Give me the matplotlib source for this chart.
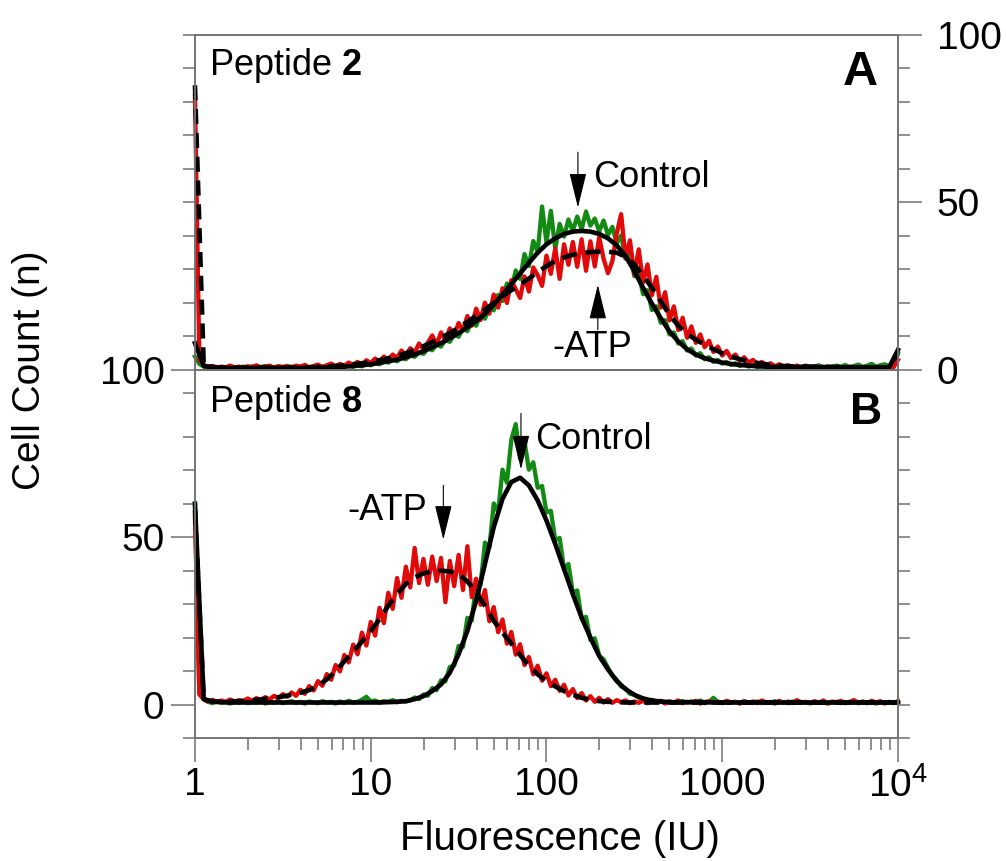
import matplotlib
matplotlib.use("Agg")
import matplotlib.pyplot as plt
import numpy as np
from matplotlib.ticker import NullFormatter, LogLocator

plt.rcParams['font.family'] = ['Liberation Sans', 'DejaVu Sans']
plt.rcParams['mathtext.fontset'] = 'custom'
plt.rcParams['mathtext.rm'] = 'Liberation Sans'
plt.rcParams['mathtext.bf'] = 'Liberation Sans:bold'

# fluorescence channels (log spaced): raw histograms every 0.025 decade, fits every 0.05 decade
raw_x = 10 ** np.linspace(0, 4, 161)
fit_x = 10 ** np.linspace(0, 4, 81)

# ---- Peptide 2 (panel A) ----
p2_control = [
    4.0, 1.8, 1.0, 0.6, 1.1, 0.7, 0.9, 0.5, 1.2, 0.8,
    0.6, 1.0, 0.7, 1.1, 0.5, 0.9, 1.2, 0.6, 0.8, 1.1,
    0.6, 0.9, 1.0, 0.5, 0.8, 1.1, 0.7, 0.9, 0.6, 1.0,
    0.8, 1.2, 0.7, 1.1, 0.9, 1.3, 0.9, 1.5, 1.1, 1.8,
    1.4, 2.1, 1.7, 2.6, 2.2, 3.1, 2.6, 3.6, 3.2, 4.5,
    3.9, 5.3, 4.8, 6.4, 5.9, 7.6, 7.0, 9.0, 8.4, 10.6,
    9.9, 12.4, 11.6, 14.3, 13.2, 16.5, 15.3, 18.9, 17.8, 22.4,
    20.6, 25.8, 23.9, 29.7, 27.2, 34.6, 31.0, 38.5, 35.2, 48.8,
    38.1, 47.5, 36.2, 43.6, 39.8, 44.9, 41.5, 45.8, 42.0, 47.3,
    43.1, 45.2, 41.4, 44.6, 40.3, 42.7, 37.9, 40.1, 33.2, 35.3,
    28.0, 28.9, 22.6, 23.8, 17.9, 19.0, 14.1, 14.9, 10.6, 11.2,
    7.9, 8.6, 5.8, 6.4, 4.3, 5.0, 3.2, 3.8, 2.4, 3.0,
    1.9, 2.4, 1.5, 2.0, 1.2, 1.7, 1.0, 1.5, 0.9, 1.3,
    0.8, 1.2, 0.7, 1.4, 0.8, 1.1, 0.6, 1.2, 0.9, 1.3,
    0.7, 1.0, 1.4, 0.8, 1.1, 0.7, 1.3, 0.9, 1.5, 0.8,
    1.2, 1.6, 0.9, 1.3, 1.8, 1.0, 1.4, 1.7, 1.1, 1.5,
    5.0]
p2_no_atp = [
    82.0, 3.0, 1.4, 1.0, 1.2, 0.6, 1.0, 0.8, 1.3, 0.7,
    1.0, 0.6, 1.1, 0.8, 1.4, 0.7, 1.0, 1.3, 0.6, 1.1,
    0.9, 1.2, 0.7, 1.3, 1.0, 1.5, 0.8, 1.2, 1.6, 0.9,
    1.4, 1.9, 1.1, 1.8, 1.3, 2.2, 1.5, 2.4, 1.6, 2.9,
    2.1, 3.4, 2.4, 4.0, 3.0, 4.6, 3.6, 5.8, 4.3, 6.5,
    5.2, 7.9, 6.1, 8.2, 10.3, 7.6, 11.2, 8.8, 12.4, 10.3,
    14.0, 11.8, 16.1, 13.2, 18.3, 14.9, 20.1, 16.8, 22.5, 18.6,
    24.4, 20.0, 26.8, 24.1, 21.5, 27.9, 23.4, 30.6, 28.3, 25.1,
    34.1, 28.7, 36.3, 27.2, 37.5, 31.4, 38.2, 30.8, 39.0, 29.6,
    38.4, 30.9, 39.6, 33.2, 28.9, 32.5, 40.8, 46.5, 33.4, 38.7,
    28.6, 36.0, 26.1, 31.5, 22.3, 27.8, 18.6, 23.2, 14.8, 19.0,
    11.9, 15.6, 9.6, 13.0, 8.1, 10.6, 6.8, 8.7, 5.4, 7.0,
    4.3, 5.7, 3.5, 4.6, 2.7, 3.8, 2.2, 3.0, 1.8, 2.4,
    1.4, 2.0, 1.1, 1.7, 0.9, 1.4, 0.8, 1.3, 0.7, 1.2,
    0.6, 1.1, 0.7, 1.0, 0.5, 1.1, 0.6, 0.9, 0.5, 1.0,
    0.6, 0.8, 0.4, 0.9, 0.5, 0.8, 0.4, 0.7, 0.5, 0.8,
    3.0]
p2_control_fit = [
    8.0, 1.2, 0.8, 0.7, 0.6, 0.6, 0.6, 0.6, 0.6, 0.6,
    0.6, 0.6, 0.6, 0.7, 0.7, 0.8, 0.9, 1.0, 1.2, 1.4,
    1.7, 2.1, 2.6, 3.1, 3.8, 4.6, 5.6, 6.8, 8.0, 9.5,
    11.0, 12.8, 14.6, 16.8, 19.5, 22.5, 25.6, 28.8, 32.0, 35.0,
    37.5, 39.3, 40.6, 41.3, 41.5, 41.3, 40.6, 39.3, 37.2, 34.0,
    29.5, 24.5, 19.8, 15.5, 11.5, 8.5, 6.2, 4.6, 3.5, 2.8,
    2.2, 1.8, 1.5, 1.3, 1.1, 1.0, 0.9, 0.9, 0.9, 0.9,
    0.9, 0.8, 0.8, 0.8, 0.8, 0.8, 0.8, 0.8, 0.8, 0.8,
    6.0]
p2_no_atp_fit = [
    85.0, 1.5, 0.9, 0.7, 0.7, 0.7, 0.7, 0.7, 0.7, 0.7,
    0.7, 0.7, 0.7, 0.8, 0.9, 1.0, 1.2, 1.4, 1.7, 2.0,
    2.4, 2.9, 3.5, 4.2, 5.0, 6.0, 7.1, 8.3, 9.6, 11.0,
    12.6, 14.3, 16.2, 18.0, 20.0, 22.0, 23.8, 25.5, 27.3, 29.2,
    31.0, 32.5, 33.6, 34.4, 34.9, 35.2, 35.3, 35.3, 35.0, 33.8,
    31.5, 28.2, 24.5, 20.5, 16.5, 13.2, 10.8, 9.0, 7.6, 6.2,
    5.0, 4.0, 3.2, 2.6, 2.1, 1.7, 1.4, 1.2, 1.1, 1.0,
    1.0, 0.9, 0.9, 0.9, 0.9, 0.8, 0.8, 0.8, 0.8, 0.8,
    5.0]

# ---- Peptide 8 (panel B) ----
p8_control = [
    60.0, 3.5, 1.5, 0.8, 0.4, 0.9, 0.5, 0.7, 0.3, 0.8,
    0.5, 0.9, 0.4, 0.7, 0.6, 1.0, 0.3, 0.8, 0.5, 0.9,
    0.4, 0.7, 1.0, 0.5, 0.8, 0.3, 0.9, 0.6, 0.4, 1.0,
    0.6, 0.8, 0.3, 0.9, 0.5, 1.1, 0.6, 0.8, 1.4, 2.3,
    0.9, 1.2, 0.6, 1.0, 0.8, 1.3, 0.7, 1.1, 0.9, 1.2,
    2.1, 1.6, 3.0, 2.6, 4.9, 4.3, 7.2, 6.9, 11.2, 11.6,
    17.5, 17.2, 25.9, 25.1, 36.3, 35.8, 48.4, 46.9, 60.1, 57.6,
    70.2, 66.3, 79.1, 83.8, 73.5, 78.6, 70.2, 72.4, 64.8, 65.3,
    57.4, 57.9, 49.1, 49.8, 40.6, 42.0, 33.4, 34.1, 25.7, 26.2,
    19.3, 19.8, 14.6, 13.5, 11.0, 8.6, 7.4, 5.4, 4.8, 3.2,
    3.0, 2.0, 1.9, 1.2, 1.4, 0.8, 1.1, 0.6, 0.9, 0.5,
    0.8, 1.0, 0.5, 0.9, 0.6, 1.2, 0.4, 0.8, 2.0, 0.7,
    0.5, 0.9, 0.6, 0.8, 0.4, 1.0, 0.5, 0.7, 0.9, 0.4,
    0.8, 0.5, 1.0, 0.6, 0.7, 0.4, 0.9, 0.5, 0.8, 0.6,
    0.4, 0.7, 0.5, 0.9, 0.3, 0.6, 0.8, 0.4, 0.7, 0.5,
    0.6, 0.4, 0.8, 0.5, 0.7, 0.3, 0.6, 0.5, 0.7, 0.4,
    0.8]
p8_no_atp = [
    56.0, 3.0, 1.6, 0.9, 1.4, 0.7, 1.2, 0.8, 1.5, 0.9,
    1.3, 1.0, 1.8, 1.1, 1.9, 1.3, 2.2, 1.5, 2.6, 1.8,
    3.1, 2.3, 3.6, 2.6, 4.4, 3.2, 5.5, 4.2, 7.0, 5.6,
    9.1, 7.4, 11.8, 9.9, 14.8, 12.6, 17.9, 15.0, 21.5, 17.6,
    24.7, 20.6, 28.9, 24.3, 33.4, 28.6, 37.8, 31.9, 41.2, 35.0,
    46.8, 36.3, 43.5, 35.8, 44.2, 36.9, 43.8, 30.6, 42.9, 35.4,
    44.7, 34.2, 47.3, 32.1, 37.6, 29.8, 34.2, 24.9, 29.1, 21.6,
    25.4, 18.2, 21.7, 14.9, 18.0, 11.8, 14.2, 9.0, 11.6, 7.1,
    9.3, 5.5, 7.4, 4.1, 5.9, 2.7, 4.6, 1.9, 3.4, 1.2,
    2.5, 0.8, 2.0, 0.6, 1.6, 0.5, 1.3, 0.7, 1.2, 0.4,
    0.9, 0.5, 1.1, 0.4, 0.8, 0.6, 1.0, 0.3, 0.9, 0.5,
    1.2, 0.4, 0.8, 0.6, 1.1, 0.3, 0.7, 1.0, 0.5, 0.9,
    0.4, 1.1, 0.6, 0.8, 0.3, 1.0, 0.5, 0.9, 0.4, 1.2,
    0.6, 0.8, 0.3, 1.1, 0.5, 0.9, 0.4, 1.3, 0.6, 0.8,
    0.4, 1.0, 0.5, 1.2, 0.3, 0.9, 0.6, 1.1, 0.4, 0.8,
    1.3, 0.5, 0.9, 0.4, 1.1, 0.6, 1.0, 0.3, 0.8, 0.5,
    1.0]
p8_control_fit = [
    60.0, 1.6, 0.9, 0.7, 0.6, 0.6, 0.6, 0.6, 0.6, 0.6,
    0.6, 0.6, 0.6, 0.6, 0.6, 0.6, 0.6, 0.6, 0.6, 0.6,
    0.6, 0.6, 0.7, 0.8, 1.0, 1.6, 2.5, 4.0, 6.0, 9.5,
    15.0, 22.0, 31.0, 42.0, 53.0, 61.5, 66.5, 67.8, 65.5, 61.0,
    55.0, 48.0, 40.5, 33.0, 26.0, 20.0, 14.5, 10.5, 7.0, 4.6,
    2.9, 1.8, 1.2, 0.9, 0.7, 0.7, 0.7, 0.7, 0.7, 0.6,
    0.6, 0.6, 0.6, 0.6, 0.6, 0.6, 0.6, 0.6, 0.6, 0.6,
    0.6, 0.6, 0.6, 0.6, 0.6, 0.6, 0.6, 0.6, 0.6, 0.6,
    0.6]
p8_no_atp_fit = [
    58.0, 1.5, 0.9, 0.8, 0.9, 1.0, 1.2, 1.4, 1.7, 2.0,
    2.4, 2.9, 3.5, 4.3, 5.6, 7.5, 10.0, 12.9, 15.8, 18.8,
    22.0, 25.5, 29.5, 33.0, 36.0, 38.0, 39.2, 39.8, 40.0, 39.8,
    39.0, 36.8, 33.5, 29.5, 25.0, 21.5, 18.2, 14.8, 11.5, 9.0,
    7.0, 5.4, 4.0, 2.9, 2.0, 1.4, 1.0, 0.8, 0.7, 0.6,
    0.6, 0.6, 0.6, 0.6, 0.6, 0.6, 0.6, 0.6, 0.6, 0.6,
    0.6, 0.6, 0.6, 0.6, 0.6, 0.6, 0.6, 0.6, 0.6, 0.6,
    0.6, 0.6, 0.6, 0.6, 0.6, 0.6, 0.6, 0.6, 0.6, 0.6,
    0.6]

x_ticks = [1, 10, 100, 1000, 10000]
x_ticklabels = ['1', '10', '100', '1000', r'$\mathregular{10^4}$']

GREEN = '#138a13'
RED = '#e00a0a'
GRAY = '#707070'

fig = plt.figure(figsize=(10.06, 8.61), dpi=100)
ax_top = fig.add_axes([0.1938, 0.5703, 0.6988, 0.3891])
ax_bot = fig.add_axes([0.1938, 0.1429, 0.6988, 0.4274])


def draw_panel(ax, control, no_atp, control_fit, no_atp_fit):
    ax.plot(raw_x, control, color=GREEN, lw=3.1, clip_on=False, zorder=2)
    ax.plot(raw_x, no_atp, color=RED, lw=3.1, clip_on=False, zorder=2.1)
    ax.plot(fit_x, no_atp_fit, color='black', lw=3.3, ls=(0, (3.3, 1.9)),
            clip_on=False, zorder=2.2)
    ax.plot(fit_x, control_fit, color='black', lw=3.3, clip_on=False, zorder=2.3)


def style(ax):
    for sp in ax.spines.values():
        sp.set_color(GRAY)
        sp.set_linewidth(1.1)
    ax.tick_params(which='major', length=17, width=1.1, color=GRAY,
                   direction='out', labelsize=28)
    ax.tick_params(which='minor', length=8.6, width=1.1, color=GRAY,
                   direction='out')


draw_panel(ax_top, p2_control, p2_no_atp, p2_control_fit, p2_no_atp_fit)
draw_panel(ax_bot, p8_control, p8_no_atp, p8_control_fit, p8_no_atp_fit)

for ax in (ax_top, ax_bot):
    ax.set_xscale('log')
    ax.set_xlim(1, 1e4)
    style(ax)

# top panel: unlabeled ticks on the left, 0/50/100 on the right
ax_top.set_ylim(0, 100)
ax_top.tick_params(axis='x', which='both', bottom=False, labelbottom=False)
ax_top.set_yticks([])
ax_top.set_yticks(np.arange(10, 101, 10), minor=True)
ax_top_r = ax_top.twinx()
ax_top_r.set_ylim(0, 100)
ax_top_r.set_yticks([0, 50, 100])
ax_top_r.set_yticks([10, 20, 30, 40, 60, 70, 80, 90], minor=True)
style(ax_top_r)
ax_top_r.tick_params(axis='y', which='major', pad=11)

# bottom panel
ax_bot.set_ylim(-10, 100)
ax_bot.set_yticks([0, 50, 100])
ax_bot.set_yticks([-10, 10, 20, 30, 40, 60, 70, 80, 93], minor=True)
ax_bot.tick_params(axis='y', which='major', pad=5)
ax_bot.set_xticks(x_ticks)
ax_bot.set_xticklabels(x_ticklabels)
ax_bot.xaxis.set_minor_locator(LogLocator(base=10, subs=np.arange(2, 10)))
ax_bot.xaxis.set_minor_formatter(NullFormatter())
ax_bot.tick_params(axis='x', which='major', pad=4)
ax_bot_r = ax_bot.twinx()
ax_bot_r.set_ylim(-10, 100)
ax_bot_r.set_yticks([])
ax_bot_r.set_yticks(np.arange(-10, 91, 10), minor=True)
style(ax_bot_r)

# panel labels
ax_top.text(0.02, 0.88, r'Peptide $\mathbf{2}$', transform=ax_top.transAxes,
            fontsize=26, ha='left', va='baseline')
ax_top.text(0.972, 0.851, 'A', transform=ax_top.transAxes, fontsize=35,
            fontweight='bold', ha='right', va='baseline')
ax_bot.text(0.02, 0.885, r'Peptide $\mathbf{8}$', transform=ax_bot.transAxes,
            fontsize=26, ha='left', va='baseline')
ax_bot.text(0.977, 0.852, 'B', transform=ax_bot.transAxes, fontsize=32,
            fontweight='bold', ha='right', va='baseline')

# arrows marking the population means
arrow = dict(arrowstyle='-|>,head_length=1.1,head_width=0.27', color='black',
             lw=0.8, shrinkA=0, shrinkB=0, mutation_scale=20)
ax_top.annotate('', xy=(151, 48.5), xytext=(151, 65), arrowprops=arrow)
ax_top.text(184, 54.6, 'Control', fontsize=26, ha='left', va='baseline')
ax_top.annotate('', xy=(196, 25.4), xytext=(196, 12.0), arrowprops=arrow)
ax_top.text(182, 3.9, '-ATP', fontsize=26, ha='center', va='baseline')

ax_bot.annotate('', xy=(71.6, 70.3), xytext=(71.6, 87), arrowprops=arrow)
ax_bot.text(86, 76.5, 'Control', fontsize=26, ha='left', va='baseline')
ax_bot.annotate('', xy=(25.9, 49.3), xytext=(25.9, 65.5), arrowprops=arrow)
ax_bot.text(20.9, 55.3, '-ATP', fontsize=26, ha='right', va='baseline')

fig.text(30 / 1006, 1 - 370 / 861, 'Cell Count (n)', rotation=90, fontsize=28,
         ha='center', va='center')
fig.text(560 / 1006, 1 - 850 / 861, 'Fluorescence (IU)', fontsize=29,
         ha='center', va='baseline')

fig.savefig('out.png', dpi=100)
